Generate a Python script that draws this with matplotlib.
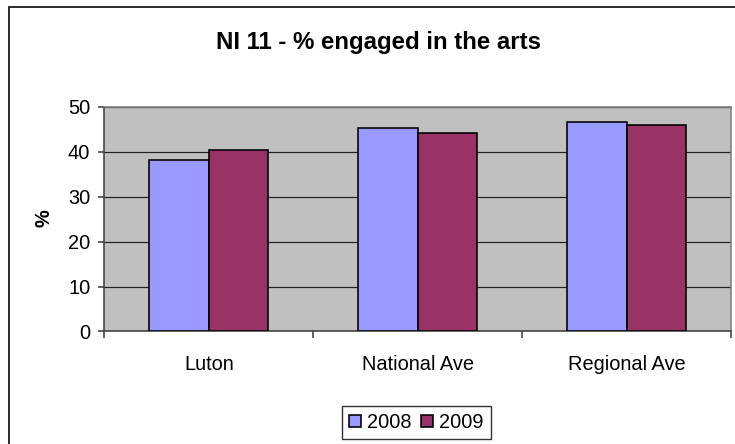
import matplotlib.pyplot as plt
from matplotlib.patches import Rectangle

# valores do indicador NI 11
categorias = ["Luton", "National Ave", "Regional Ave"]
anos = ["2008", "2009"]
valores_2008 = [38.1, 45.3, 46.7]
valores_2009 = [40.4, 44.1, 46.0]
yticks = [0, 10, 20, 30, 40, 50]

cor_2008 = "#9999FF"
cor_2009 = "#993366"

plt.rcParams["font.family"] = ["Liberation Sans", "DejaVu Sans"]

fig = plt.figure(figsize=(735 / 144, 444 / 144), dpi=144)
ax = fig.add_axes([0.1419, 0.2534, 0.8527, 0.5063])

## barras agrupadas
largura = 1 / 3.5
pos = list(range(len(categorias)))
ax.bar([p - largura for p in pos], valores_2008, width=largura, align="edge",
       color=cor_2008, edgecolor="black", linewidth=0.8, label=anos[0], zorder=3)
ax.bar(pos, valores_2009, width=largura, align="edge",
       color=cor_2009, edgecolor="black", linewidth=0.8, label=anos[1], zorder=3)

ax.set_facecolor("#C0C0C0")
ax.set_xlim(-0.5, len(categorias) - 0.5)
ax.set_ylim(0, 50)
ax.set_yticks(yticks)
ax.grid(axis="y", color="#202020", linewidth=0.6, zorder=1)

## eixo x: rotulos no centro, marcas entre as categorias
ax.set_xticks(pos)
ax.set_xticklabels(categorias, fontsize=10)
ax.set_xticks([p - 0.5 for p in range(len(categorias) + 1)], minor=True)
ax.tick_params(axis="x", which="major", length=0, pad=12)
ax.tick_params(axis="x", which="minor", length=3.5, width=0.8, color="#404040", direction="out")
ax.tick_params(axis="y", length=3, width=0.8, color="#404040", labelsize=10, pad=4)

for lado in ["top", "right"]:
    ax.spines[lado].set_color("#808080")
    ax.spines[lado].set_linewidth(0.8)
for lado in ["left", "bottom"]:
    ax.spines[lado].set_color("#404040")
    ax.spines[lado].set_linewidth(0.8)

fig.text(0.5156, 0.9054, "NI 11 - % engaged in the arts", fontsize=12,
         fontweight="bold", ha="center", va="center")
fig.text(0.0605, 0.509, "%", fontsize=10, fontweight="bold", rotation=90,
         ha="center", va="center")

leg = fig.legend(loc="center", bbox_to_anchor=(0.566, 0.0484), ncol=2,
                 fontsize=10, frameon=True, fancybox=False, edgecolor="black",
                 handlelength=0.6, handleheight=0.6, handletextpad=0.3,
                 columnspacing=0.5, borderpad=0.35, borderaxespad=0)
leg.get_frame().set_linewidth(0.7)

## moldura do grafico
fig.patches.append(Rectangle((9 / 735, -0.05), 1.1, 1 - 7 / 444 + 0.05,
                             transform=fig.transFigure, fill=False,
                             edgecolor="black", linewidth=0.8))

fig.savefig("out.png", dpi=144)
